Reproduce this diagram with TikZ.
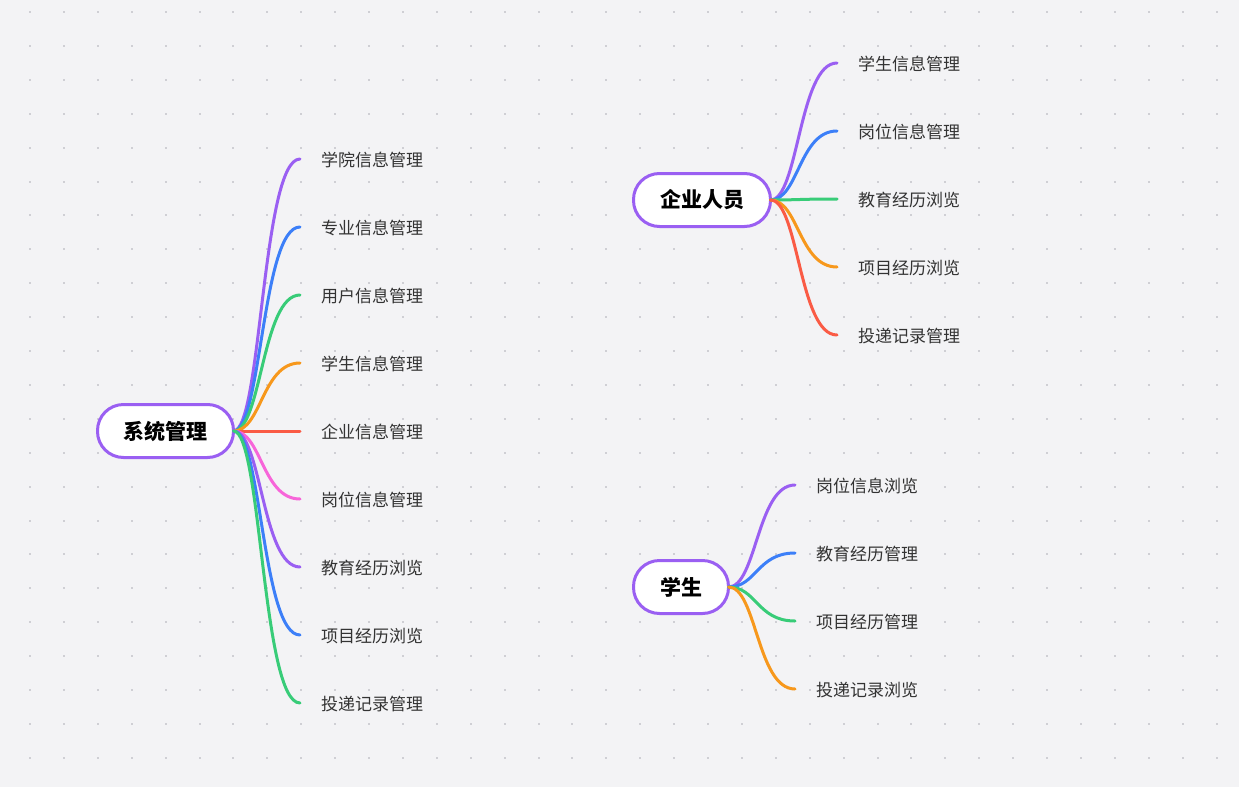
\documentclass[tikz,border=0pt]{standalone}
\usepackage{fontspec}
\setmainfont{Noto Sans CJK SC}
\definecolor{bgc}{HTML}{F3F3F5}
\definecolor{dotc}{HTML}{CFCFD4}
\definecolor{cpur}{HTML}{9A5FF2}
\definecolor{cblu}{HTML}{3C7FF8}
\definecolor{cgrn}{HTML}{38CC78}
\definecolor{corg}{HTML}{F7981C}
\definecolor{cred}{HTML}{FA5B45}
\definecolor{cpnk}{HTML}{F765D9}
\definecolor{labc}{HTML}{333333}
\tikzset{
  rootnode/.style={draw=cpur, line width=3pt, fill=white, rounded corners=26pt,
    minimum height=53pt, inner sep=0pt, outer sep=0pt, text=black,
    font=\fontsize{21}{25}\selectfont\bfseries},
  lab/.style={anchor=west, inner sep=0pt, yshift=-0.7pt, text=labc, font=\fontsize{17}{20}\selectfont},
  br/.style={line width=3pt, line cap=round}
}
\begin{document}
\begin{tikzpicture}[x=1pt,y=-1pt]
\fill[bgc] (0,0) rectangle (1239,787);
\useasboundingbox (0,0) rectangle (1239,787);
\foreach \i in {0,...,36}{
  \foreach \j in {0,...,22}{
    \fill[dotc] ({30+33.9*\i-1},{12+33.9*\j-1}) rectangle ++(2,2);
  }
}
% roots
\node[rootnode, minimum width=136pt] (r1) at (165.5,431) {系统管理};
\node[rootnode, minimum width=137pt] (r2) at (702,200) {企业人员};
\node[rootnode, minimum width=95pt] (r3) at (681,587) {学生};
% root 1 branches
\foreach \k/\y/\c/\t in {1/159/cpur/学院信息管理, 2/227/cblu/专业信息管理, 3/295/cgrn/用户信息管理,
  4/363/corg/学生信息管理, 5/431/cred/企业信息管理, 6/499/cpnk/岗位信息管理,
  7/567/cpur/教育经历浏览, 8/635/cblu/项目经历浏览, 9/703/cgrn/投递记录管理}{
  \coordinate (a\k) at (300,\y);
  \node[lab] (la\k) at (321,\y) {\t};
  \draw[br, draw=\c] (r1.east) .. controls +(28,0) and +(-38,0) .. (a\k);
}
% root 2 branches
\foreach \k/\y/\c/\t in {1/63/cpur/学生信息管理, 2/131/cblu/岗位信息管理, 3/199/cgrn/教育经历浏览,
  4/267/corg/项目经历浏览, 5/335/cred/投递记录管理}{
  \coordinate (b\k) at (837,\y);
  \node[lab] (lb\k) at (858,\y) {\t};
  \draw[br, draw=\c] (r2.east) .. controls +(28,0) and +(-38,0) .. (b\k);
}
% root 3 branches
\foreach \k/\y/\c/\t in {1/485/cpur/岗位信息浏览, 2/553/cblu/教育经历管理, 3/621/cgrn/项目经历管理,
  4/689/corg/投递记录浏览}{
  \coordinate (c\k) at (795,\y);
  \node[lab] (lc\k) at (816,\y) {\t};
  \draw[br, draw=\c] (r3.east) .. controls +(28,0) and +(-38,0) .. (c\k);
}
\end{tikzpicture}
\end{document}
